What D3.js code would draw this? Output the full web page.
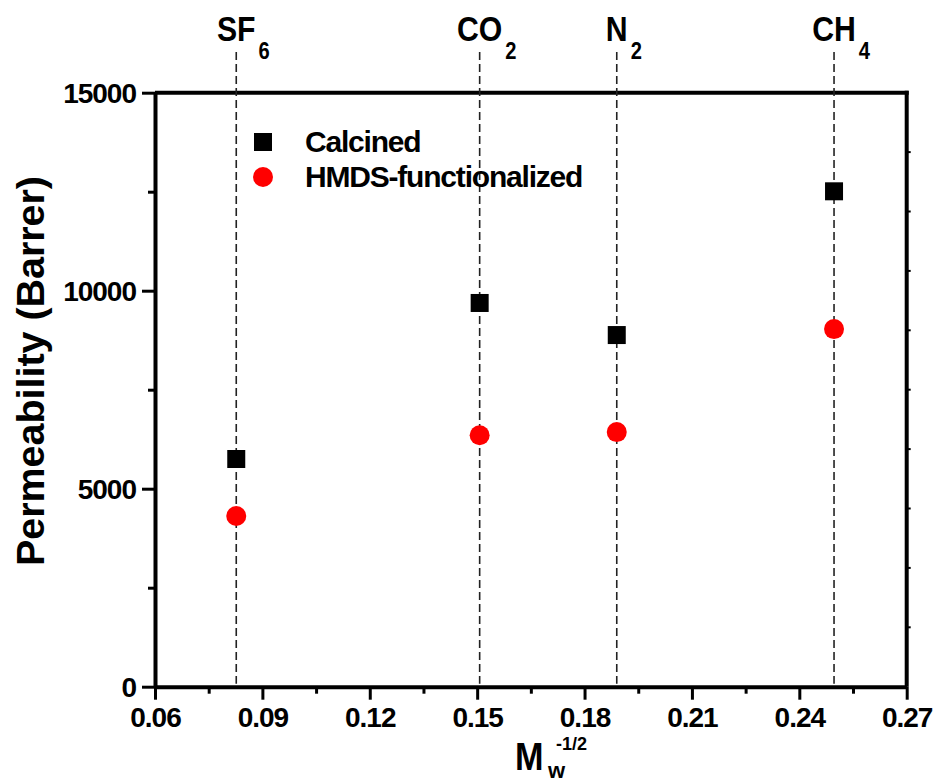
<!DOCTYPE html>
<html>
<head>
<meta charset="utf-8">
<script src="https://cdn.jsdelivr.net/npm/d3@7/dist/d3.min.js"></script>
<style>
  html, body { margin: 0; padding: 0; background: #fff; }
  svg { display: block; font-family: "Liberation Sans", Arial, sans-serif; font-weight: bold; }
</style>
</head>
<body>
<svg id="chart" width="938" height="782"></svg>
<script>
// Gas species, molecular-weight axis positions (Mw^-1/2) and permeabilities
const gases = ["SF", "CO", "N", "CH"];
const gasSubs = ["6", "2", "2", "4"];
const mwInvSqrt = [0.0827, 0.1507, 0.1890, 0.2497];
const calcined = [5750, 9690, 8880, 12510];
const hmds = [4310, 6350, 6430, 9030];
const seriesNames = ["Calcined", "HMDS-functionalized"];
const xTicks = [0.06, 0.09, 0.12, 0.15, 0.18, 0.21, 0.24, 0.27];
const xMinorTicks = [0.075, 0.105, 0.135, 0.165, 0.195, 0.225, 0.255];
const yTicks = [0, 5000, 10000, 15000];
const yMinorTicks = [2500, 7500, 12500];

const svg = d3.select("#chart");
const plotLeft = 155, plotRight = 906.7, plotTop = 92.7, plotBottom = 686.7;

const x = d3.scaleLinear().domain([0.06, 0.27]).range([plotLeft, plotRight]);
const y = d3.scaleLinear().domain([0, 15000]).range([plotBottom, plotTop]);

// Frame: top and right edges
svg.append("line").attr("x1", plotLeft).attr("x2", plotRight + 2).attr("y1", plotTop).attr("y2", plotTop)
  .attr("stroke", "#000").attr("stroke-width", 4);
svg.append("line").attr("x1", plotRight).attr("x2", plotRight).attr("y1", plotTop - 2).attr("y2", plotBottom)
  .attr("stroke", "#000").attr("stroke-width", 4);

// Small ticks on the right edge
svg.append("g").selectAll("line").data(d3.range(1500, 15000, 1500)).join("line")
  .attr("x1", plotRight).attr("x2", plotRight + 4)
  .attr("y1", d => y(d)).attr("y2", d => y(d))
  .attr("stroke", "#000").attr("stroke-width", 2);

// Dashed reference lines for each gas
svg.append("g").selectAll("line").data(mwInvSqrt).join("line")
  .attr("x1", d => x(d)).attr("x2", d => x(d))
  .attr("y1", 52).attr("y2", plotBottom - 3)
  .attr("stroke", "#222").attr("stroke-width", 1.6)
  .attr("stroke-dasharray", "8,4");

// Gas labels with subscripts, in a horizontally condensed bold face
const squeeze = 0.84;
const gasG = svg.append("g");
gases.forEach((g, i) => {
  const cx = x(mwInvSqrt[i]);
  const holder = gasG.append("g").attr("transform", `translate(${cx},41) scale(${squeeze},1)`);
  const t = holder.append("text").attr("text-anchor", "middle").attr("font-size", 36).text(g);
  const w = t.node().getComputedTextLength() * squeeze;
  gasG.append("g").attr("transform", `translate(${cx + w / 2 + 3},59) scale(${squeeze},1)`)
    .append("text").attr("font-size", 24).text(gasSubs[i]);
});

// Axes
const xAxis = svg.append("g").attr("transform", `translate(0,${plotBottom})`)
  .call(d3.axisBottom(x).tickValues(xTicks).tickSizeInner(13).tickSizeOuter(0)
    .tickPadding(6).tickFormat(d3.format(".2f")));
svg.append("g").attr("transform", `translate(0,${plotBottom})`)
  .call(d3.axisBottom(x).tickValues(xMinorTicks).tickSize(7).tickFormat(""))
  .call(g => g.select(".domain").remove());

const yAxis = svg.append("g").attr("transform", `translate(${plotLeft},0)`)
  .call(d3.axisLeft(y).tickValues(yTicks).tickSizeInner(13).tickSizeOuter(0)
    .tickPadding(6).tickFormat(d3.format("d")));
svg.append("g").attr("transform", `translate(${plotLeft},0)`)
  .call(d3.axisLeft(y).tickValues(yMinorTicks).tickSize(7).tickFormat(""))
  .call(g => g.select(".domain").remove());

svg.selectAll(".domain").attr("stroke", "#000").attr("stroke-width", 4);
svg.selectAll(".tick line").attr("stroke", "#000").attr("stroke-width", 3);
svg.selectAll(".tick text")
  .attr("fill", "#000")
  .attr("font-family", "'Liberation Sans', Arial, sans-serif")
  .attr("font-weight", "bold")
  .attr("font-size", 28)
  .attr("letter-spacing", -1);
xAxis.selectAll(".tick text").attr("dy", "0.76em");
yAxis.selectAll(".tick text").attr("dy", "0.36em");

// Axis titles
svg.append("text")
  .attr("transform", `translate(44,${(176 + 566) / 2}) rotate(-90)`)
  .attr("text-anchor", "middle").attr("font-size", 38)
  .attr("textLength", 390).attr("lengthAdjust", "spacingAndGlyphs")
  .text("Permeability (Barrer)");

const xt = svg.append("g");
xt.append("g").attr("transform", "translate(515,770) scale(0.9,1)")
  .append("text").attr("font-size", 38).text("M");
xt.append("text").attr("x", 548).attr("y", 778).attr("font-size", 22).text("w");
xt.append("g").attr("transform", "translate(556,750) scale(0.95,1)")
  .append("text").attr("font-size", 19).text("-1/2");

// Data markers
const sq = 18;
svg.append("g").selectAll("rect").data(calcined).join("rect")
  .attr("x", (d, i) => x(mwInvSqrt[i]) - sq / 2)
  .attr("y", d => y(d) - sq / 2)
  .attr("width", sq).attr("height", sq).attr("fill", "#000");
svg.append("g").selectAll("circle").data(hmds).join("circle")
  .attr("cx", (d, i) => x(mwInvSqrt[i]))
  .attr("cy", d => y(d))
  .attr("r", 10).attr("fill", "#ff0000");

// Legend
const lg = svg.append("g");
lg.append("rect").attr("x", 263 - sq / 2).attr("y", 142 - sq / 2)
  .attr("width", sq).attr("height", sq).attr("fill", "#000");
lg.append("circle").attr("cx", 263).attr("cy", 177).attr("r", 10).attr("fill", "#ff0000");
lg.selectAll("text").data(seriesNames).join("text")
  .attr("x", 305).attr("y", (d, i) => 152 + i * 35)
  .attr("font-size", 30).attr("letter-spacing", -1.2)
  .text(d => d);
</script>
</body>
</html>
